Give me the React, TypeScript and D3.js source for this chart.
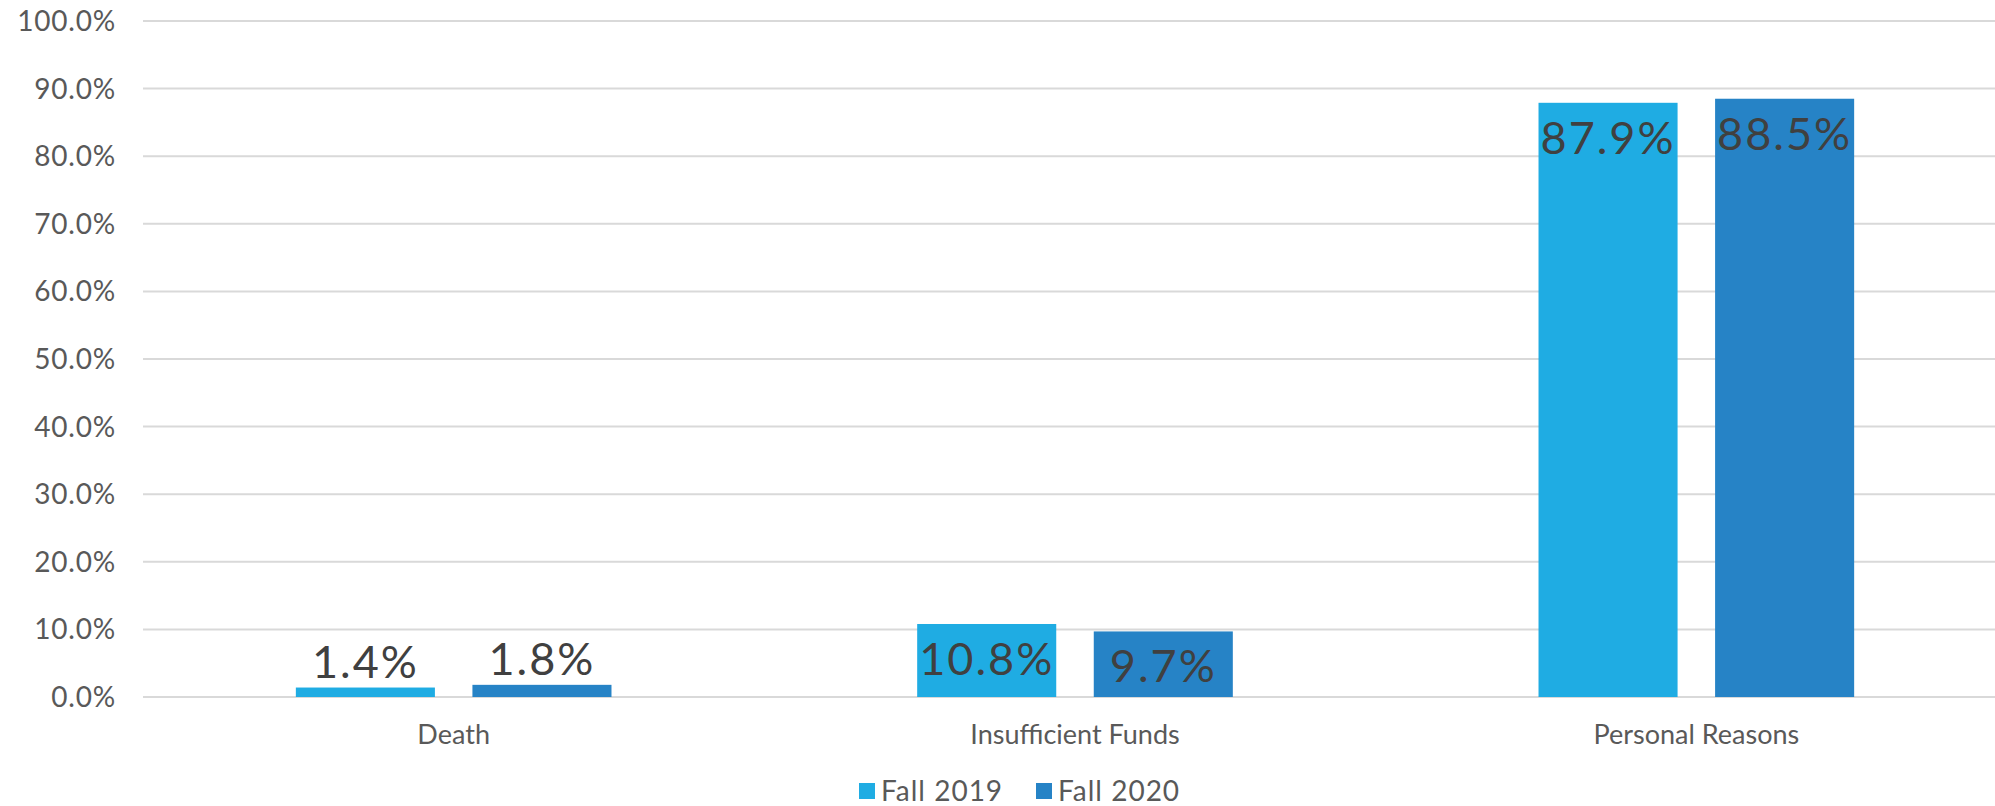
import React, { useRef, useEffect } from 'react';
import * as d3 from 'd3';

// Datos del gráfico
const categories = ['Death', 'Insufficient Funds', 'Personal Reasons'];
const seriesNames = ['Fall 2019', 'Fall 2020'];
const fall2019 = [1.4, 10.8, 87.9];
const fall2020 = [1.8, 9.7, 88.5];
const yTicks = [0, 10, 20, 30, 40, 50, 60, 70, 80, 90, 100];
const colors = ['#1FACE3', '#2683C6'];

const FONT = "Futura, 'Century Gothic', Lato, sans-serif";

const App = () => {
  const svgRef = useRef<SVGSVGElement>(null);

  useEffect(() => {
    const svg = d3.select(svgRef.current);
    svg.selectAll('*').remove(); // limpia antes de dibujar

    const width = 1995;
    // el área de trazado sigue más allá del borde derecho
    const left = 143;
    const right = 2007;
    const top = 21;
    const bottom = 697;

    const y = d3.scaleLinear().domain([0, 100]).range([bottom, top]);
    const x0 = d3.scaleBand().domain(categories).range([left, right]);
    const clusterW = 0.508 * x0.bandwidth(); // ancho de las dos barras juntas
    const x1 = d3.scaleBand().domain(seriesNames)
      .range([(x0.bandwidth() - clusterW) / 2, (x0.bandwidth() + clusterW) / 2])
      .paddingInner(0.2125)
      .paddingOuter(0);

    // líneas de cuadrícula
    svg.append('g')
      .selectAll('line')
      .data(yTicks)
      .join('line')
      .attr('x1', left)
      .attr('x2', width)
      .attr('y1', d => y(d))
      .attr('y2', d => y(d))
      .attr('stroke', '#D9D9D9')
      .attr('stroke-width', 2);

    // etiquetas del eje Y
    svg.append('g')
      .selectAll('text')
      .data(yTicks)
      .join('text')
      .attr('x', 116)
      .attr('y', d => y(d))
      .attr('dy', '0.36em')
      .attr('text-anchor', 'end')
      .attr('font-family', FONT)
      .attr('font-size', 28)
      .attr('letter-spacing', 0.8)
      .attr('fill', '#595959')
      .text(d => d.toFixed(1) + '%');

    const rows = categories.map((c, i) => ({
      category: c,
      values: [
        { series: seriesNames[0], value: fall2019[i], color: colors[0] },
        { series: seriesNames[1], value: fall2020[i], color: colors[1] },
      ],
    }));

    const groups = svg.append('g')
      .selectAll('g')
      .data(rows)
      .join('g')
      .attr('transform', d => `translate(${x0(d.category)},0)`);

    groups.selectAll('rect')
      .data(d => d.values)
      .join('rect')
      .attr('x', d => x1(d.series)!)
      .attr('y', d => y(d.value))
      .attr('width', x1.bandwidth())
      .attr('height', d => bottom - y(d.value))
      .attr('fill', d => d.color);

    // etiquetas de valor: dentro del extremo, o encima si la barra es baja
    groups.selectAll('text')
      .data(d => d.values)
      .join('text')
      .attr('x', d => x1(d.series)! + x1.bandwidth() / 2)
      .attr('y', d => {
        const h = bottom - y(d.value);
        return h < 60 ? y(d.value) - 10 : y(d.value) + 51;
      })
      .attr('text-anchor', 'middle')
      .attr('font-family', FONT)
      .attr('font-size', 45)
      .attr('letter-spacing', 2)
      .attr('fill', '#404040')
      .text(d => d.value.toFixed(1) + '%');

    // etiquetas de categoría
    svg.append('g')
      .selectAll('text')
      .data(categories)
      .join('text')
      .attr('x', d => x0(d)! + x0.bandwidth() / 2)
      .attr('y', 744)
      .attr('text-anchor', 'middle')
      .attr('font-family', FONT)
      .attr('font-size', 27)
      .attr('fill', '#595959')
      .text(d => d);

    // leyenda
    const legendX = [859, 1036];
    const legend = svg.append('g')
      .selectAll('g')
      .data(seriesNames)
      .join('g')
      .attr('transform', (d, i) => `translate(${legendX[i]},783)`);
    legend.append('rect')
      .attr('width', 16)
      .attr('height', 16)
      .attr('fill', (d, i) => colors[i]);
    legend.append('text')
      .attr('x', 22)
      .attr('y', 18)
      .attr('font-family', FONT)
      .attr('font-size', 28)
      .attr('letter-spacing', 1)
      .attr('fill', '#595959')
      .text(d => d);
  }, []);

  return (
    <svg
      ref={svgRef}
      width="1995"
      height="806"
      style={{ position: 'absolute', left: 0, top: 0, background: '#fff' }}
    ></svg>
  );
};

export default App;
